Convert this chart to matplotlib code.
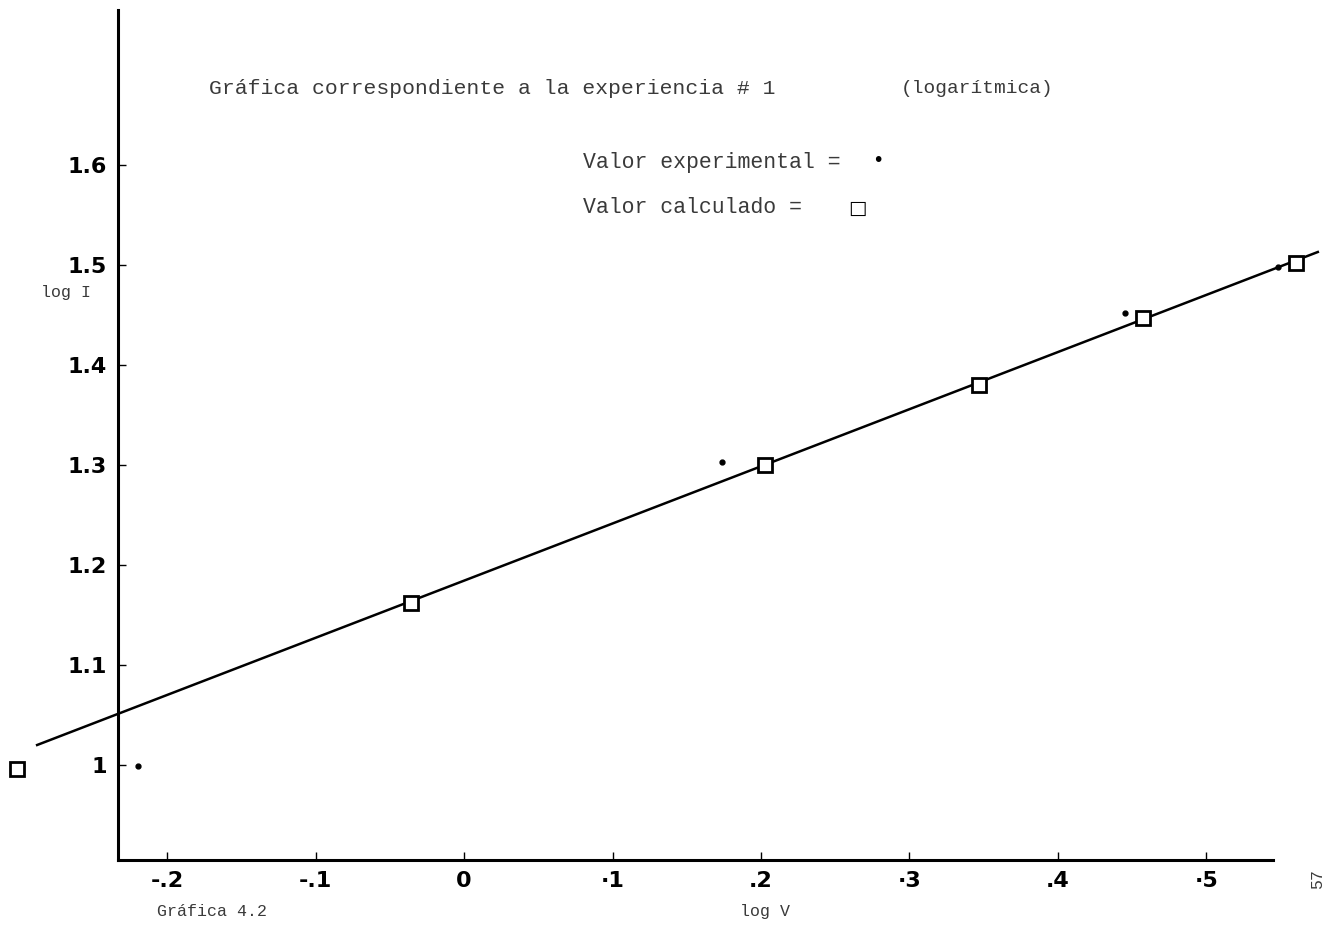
import matplotlib.pyplot as plt

# valores (log V, log I)
calc_v = [-0.301, -0.036, 0.203, 0.347, 0.457, 0.560]
calc_i = [0.996, 1.162, 1.300, 1.380, 1.447, 1.502]
exp_v = [-0.2195, 0.174, 0.445, 0.548]
exp_i = [0.999, 1.303, 1.452, 1.498]
fit_v = [-0.2875, 0.575]
fit_i = [1.020, 1.513]

x_ticks = [-0.2, -0.1, 0.0, 0.1, 0.2, 0.3, 0.4, 0.5]
x_labels = ['-.2', '-.1', '0', '·1', '.2', '·3', '.4', '·5']
y_ticks = [1.0, 1.1, 1.2, 1.3, 1.4, 1.5, 1.6]
y_labels = ['1', '1.1', '1.2', '1.3', '1.4', '1.5', '1.6']

fig = plt.figure(figsize=(13.34, 9.38), dpi=100)
ax = fig.add_axes([0, 0, 1, 1])
ax.set_xlim(-0.3125, 0.5859)
ax.set_ylim(0.827, 1.765)

# ejes a mano (como en el papel)
for s in ['top', 'right']:
    ax.spines[s].set_visible(False)
ax.spines['left'].set_position(('data', -0.233))
ax.spines['bottom'].set_position(('data', 0.905))
ax.spines['left'].set_bounds(0.905, 1.755)
ax.spines['bottom'].set_bounds(-0.233, 0.545)
ax.spines['left'].set_linewidth(2.2)
ax.spines['bottom'].set_linewidth(2.2)

ax.set_xticks(x_ticks)
ax.set_xticklabels(x_labels)
ax.set_yticks(y_ticks)
ax.set_yticklabels(y_labels)
ax.tick_params(axis='both', direction='in', length=6, width=1, labelsize=16, pad=8)
for t in ax.get_xticklabels() + ax.get_yticklabels():
    t.set_fontweight('bold')

ax.plot(fit_v, fit_i, color='black', lw=1.8, clip_on=False)
ax.plot(calc_v, calc_i, linestyle='none', marker='s', markersize=10.5,
        markerfacecolor='white', markeredgecolor='black', markeredgewidth=2, clip_on=False)
ax.plot(exp_v, exp_i, linestyle='none', marker='o', markersize=3.5,
        color='black', clip_on=False)

mono = 'Liberation Mono'
gris = '#3a3a3a'
ax.text(0.157, 0.906, 'Gráfica correspondiente a la experiencia # 1', transform=ax.transAxes,
        family=mono, fontsize=15.4, color=gris, va='center')
ax.text(0.675, 0.906, '(logarítmica)', transform=ax.transAxes,
        family=mono, fontsize=14, color=gris, va='center')
ax.text(0.437, 0.827, 'Valor experimental =', transform=ax.transAxes,
        family=mono, fontsize=15.5, color=gris, va='center')
ax.text(0.658, 0.829, '•', transform=ax.transAxes, fontsize=14, color='black',
        ha='center', va='center')
ax.text(0.437, 0.779, 'Valor calculado =', transform=ax.transAxes,
        family=mono, fontsize=15.5, color=gris, va='center')
ax.text(0.643, 0.778, '□', transform=ax.transAxes, fontsize=14, color='black',
        ha='center', va='center', fontweight='bold')
ax.text(0.031, 0.688, 'log I', transform=ax.transAxes,
        family=mono, fontsize=12, color=gris, va='center')
ax.text(0.555, 0.028, 'log V', transform=ax.transAxes,
        family=mono, fontsize=12, color=gris, va='center')
ax.text(0.118, 0.028, 'Gráfica 4.2', transform=ax.transAxes,
        family=mono, fontsize=12, color=gris, va='center')
ax.text(0.988, 0.063, '57', transform=ax.transAxes, rotation=90,
        family=mono, fontsize=12, color=gris, ha='center', va='center')

fig.savefig('out.png', dpi=100, facecolor='white')
